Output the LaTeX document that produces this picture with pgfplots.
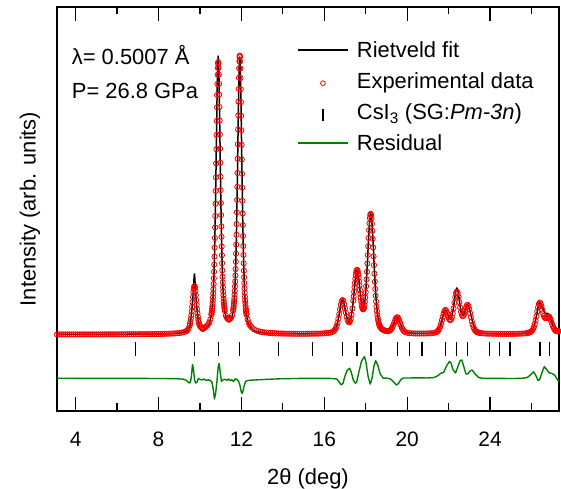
\documentclass[border=0pt]{standalone}
\usepackage{pgfplots}
\pgfplotsset{compat=1.18}
\usepackage{pgfplotstable}
\usepackage{fontspec}
\setmainfont{Liberation Sans}

\definecolor{obsred}{RGB}{255,0,0}
\definecolor{resgreen}{RGB}{0,128,0}

% observed intensity (arb. units, offset scale)
\pgfplotstableread{
x obs
3.1 76.6
3.2 76.6
3.3 76.6
3.4 76.6
3.5 76.6
3.6 76.6
3.7 76.6
3.8 76.6
3.9 76.6
4.0 76.6
4.1 76.6
4.2 76.6
4.3 76.6
4.4 76.6
4.5 76.6
4.6 76.6
4.7 76.6
4.8 76.6
4.9 76.6
5.0 76.6
5.1 76.6
5.2 76.6
5.3 76.6
5.4 76.6
5.5 76.7
5.6 76.7
5.7 76.7
5.8 76.7
5.9 76.7
6.0 76.7
6.1 76.7
6.2 76.7
6.3 76.7
6.4 76.7
6.5 76.8
6.6 76.8
6.7 76.8
6.8 76.8
6.9 76.8
7.0 76.8
7.1 76.8
7.2 76.8
7.3 76.8
7.4 76.8
7.5 76.9
7.6 76.9
7.7 76.9
7.8 76.9
7.9 76.9
8.0 77.0
8.1 77.05
8.2 77.1
8.3 77.2
8.4 77.25
8.5 77.3
8.6 77.4
8.7 77.5
8.8 77.6
8.9 77.8
9.0 78.0
9.1 78.3
9.2 78.75
9.3 79.5
9.35 80.0
9.4 80.9
9.45 82.3
9.50 85.3
9.52 87.1
9.54 89.4
9.56 92.2
9.58 95.7
9.60 99.7
9.62 104.2
9.64 109.0
9.66 114.0
9.68 118.5
9.70 122.2
9.72 124.4
9.74 124.8
9.76 123.2
9.78 120.0
9.80 115.8
9.82 111.1
9.84 106.3
9.86 101.8
9.88 97.7
9.90 94.3
9.92 91.4
9.94 89.1
9.96 87.3
9.98 86.0
10.00 85.0
10.05 83.6
10.10 83.0
10.15 83.0
10.20 83.2
10.25 83.7
10.30 84.5
10.35 85.5
10.40 86.9
10.45 88.7
10.50 91.6
10.55 96.2
10.56 97.5
10.57 99.0
10.58 100.6
10.59 102.6
10.60 104.8
10.61 107.4
10.62 110.3
10.63 113.7
10.64 117.6
10.65 122.0
10.66 127.0
10.67 132.7
10.68 139.2
10.69 146.4
10.70 154.4
10.71 163.3
10.72 173.0
10.73 183.6
10.74 195.0
10.75 207.2
10.76 220.1
10.77 233.6
10.78 247.6
10.79 261.8
10.80 276.1
10.81 290.1
10.82 303.6
10.83 316.0
10.84 327.0
10.85 336.2
10.86 343.2
10.87 347.5
10.88 349.0
10.89 347.5
10.90 343.3
10.91 336.4
10.92 327.3
10.93 316.4
10.94 304.0
10.95 290.6
10.96 276.6
10.97 262.4
10.98 248.2
10.99 234.3
11.00 220.9
11.01 208.1
11.02 195.9
11.03 184.6
11.04 174.1
11.05 164.5
11.06 155.7
11.07 147.8
11.08 140.6
11.09 134.3
11.10 128.6
11.11 123.7
11.12 119.4
11.13 115.6
11.14 112.3
11.15 109.5
11.16 107.0
11.17 104.9
11.18 103.1
11.19 101.5
11.20 100.1
11.25 95.5
11.30 93.1
11.35 91.9
11.40 91.6
11.45 92.0
11.50 93.2
11.55 95.7
11.60 100.4
11.61 101.8
11.62 103.4
11.63 105.3
11.64 107.5
11.65 110.0
11.66 112.9
11.67 116.3
11.68 120.1
11.69 124.6
11.70 129.6
11.71 135.4
11.72 141.9
11.73 149.3
11.74 157.4
11.75 166.4
11.76 176.3
11.77 187.0
11.78 198.7
11.79 211.1
11.80 224.2
11.81 238.0
11.82 252.3
11.83 266.8
11.84 281.4
11.85 295.7
11.86 309.4
11.87 322.1
11.88 333.3
11.89 342.7
11.90 349.7
11.91 354.1
11.92 355.5
11.93 354.0
11.94 349.6
11.95 342.5
11.96 333.0
11.97 321.7
11.98 308.9
11.99 295.2
12.00 280.8
12.01 266.1
12.02 251.5
12.03 237.2
12.04 223.3
12.05 210.1
12.06 197.6
12.07 185.9
12.08 175.0
12.09 165.0
12.10 156.0
12.11 147.7
12.12 140.3
12.13 133.7
12.14 127.9
12.15 122.7
12.16 118.1
12.17 114.2
12.18 110.7
12.19 107.7
12.20 105.0
12.21 102.8
12.22 100.8
12.23 99.0
12.24 97.5
12.25 96.2
12.30 91.4
12.35 88.4
12.40 86.3
12.45 84.8
12.50 83.5
12.60 81.8
12.70 80.7
12.80 79.8
12.90 79.3
13.00 78.9
13.10 78.6
13.20 78.4
13.30 78.2
13.40 78.0
13.50 77.85
13.60 77.75
13.70 77.65
13.80 77.55
13.90 77.5
14.00 77.4
14.10 77.35
14.20 77.3
14.30 77.3
14.40 77.25
14.50 77.2
14.60 77.2
14.70 77.2
14.80 77.2
14.90 77.2
15.00 77.2
15.10 77.2
15.20 77.25
15.30 77.25
15.40 77.3
15.50 77.3
15.60 77.35
15.70 77.4
15.80 77.45
15.90 77.55
16.00 77.7
16.10 77.9
16.20 78.1
16.30 78.4
16.40 79.1
16.44 79.7
16.48 80.3
16.52 81.4
16.56 82.9
16.60 85.2
16.64 88.2
16.68 92.1
16.72 96.7
16.76 101.6
16.80 106.2
16.84 109.6
16.88 111.0
16.92 110.0
16.96 106.9
17.00 102.7
17.04 98.3
17.08 94.3
17.12 91.2
17.16 89.3
17.20 88.7
17.24 89.6
17.28 92.2
17.32 96.5
17.36 102.6
17.40 110.3
17.42 114.6
17.44 119.2
17.46 123.7
17.48 128.2
17.50 132.3
17.52 135.9
17.54 138.7
17.56 140.5
17.58 141.2
17.60 140.8
17.62 139.2
17.64 136.6
17.66 133.4
17.68 129.5
17.70 125.4
17.72 121.3
17.74 117.2
17.76 113.3
17.78 109.9
17.80 107.0
17.82 104.6
17.84 102.9
17.86 101.9
17.88 101.6
17.90 102.2
17.92 103.7
17.94 106.1
17.96 109.3
17.98 113.6
18.00 118.7
18.02 124.8
18.04 131.6
18.06 139.3
18.08 147.5
18.10 156.0
18.12 164.7
18.14 173.1
18.16 180.9
18.18 187.6
18.20 192.8
18.22 196.1
18.24 197.2
18.26 196.0
18.28 192.5
18.30 187.1
18.32 180.2
18.34 172.2
18.36 163.6
18.38 154.7
18.40 145.9
18.42 137.4
18.44 129.3
18.46 122.0
18.48 115.3
18.50 109.5
18.52 104.4
18.54 100.0
18.56 96.4
18.58 93.3
18.60 90.9
18.62 88.8
18.64 87.2
18.66 85.9
18.68 84.8
18.70 84.0
18.74 82.8
18.78 81.9
18.82 81.4
18.86 80.9
18.90 80.5
18.94 80.3
18.98 80.1
19.02 80.0
19.06 79.9
19.10 80.0
19.14 80.2
19.18 80.7
19.22 81.5
19.26 82.6
19.30 84.2
19.34 86.1
19.38 88.4
19.42 90.7
19.46 92.6
19.50 93.7
19.54 93.6
19.58 92.4
19.62 90.4
19.66 88.0
19.70 85.6
19.74 83.5
19.78 81.8
19.82 80.5
19.86 79.5
19.90 78.9
20.00 78.2
20.10 77.9
20.20 77.7
20.30 77.6
20.40 77.5
20.50 77.5
20.60 77.5
20.70 77.5
20.80 77.5
20.90 77.5
21.00 77.6
21.10 77.7
21.20 77.9
21.30 78.2
21.40 78.7
21.44 79.2
21.48 79.9
21.52 81.0
21.56 82.6
21.60 84.8
21.64 87.5
21.68 90.8
21.72 94.2
21.76 97.5
21.80 100.0
21.84 101.1
21.88 100.5
21.92 98.5
21.96 95.9
22.00 93.4
22.04 91.5
22.08 90.7
22.12 91.4
22.16 93.7
22.20 97.5
22.24 102.5
22.28 108.2
22.32 113.7
22.36 117.8
22.40 119.4
22.44 118.0
22.48 114.1
22.52 108.9
22.56 103.6
22.60 99.2
22.64 96.2
22.68 94.9
22.72 95.4
22.76 97.3
22.80 100.2
22.84 103.2
22.88 105.5
22.92 106.2
22.96 104.9
23.00 101.8
23.04 97.8
23.08 93.6
23.12 89.7
23.16 86.4
23.20 83.8
23.24 81.8
23.28 80.5
23.32 79.6
23.36 79.0
23.40 78.6
23.44 78.4
23.48 78.2
23.52 78.0
23.60 77.8
23.70 77.6
23.80 77.4
23.90 77.3
24.00 77.3
24.10 77.25
24.20 77.2
24.30 77.2
24.40 77.2
24.50 77.15
24.60 77.1
24.70 77.1
24.80 77.1
24.90 77.1
25.00 77.1
25.10 77.15
25.20 77.2
25.30 77.25
25.40 77.3
25.50 77.3
25.60 77.5
25.70 77.6
25.80 78.1
25.84 78.2
25.88 78.4
25.92 78.7
25.96 79.1
26.00 79.7
26.04 80.6
26.08 82.1
26.12 84.1
26.16 87.0
26.20 90.6
26.24 94.8
26.28 99.4
26.32 103.7
26.36 107.0
26.40 108.4
26.44 107.5
26.48 104.9
26.52 101.4
26.56 97.9
26.60 95.1
26.64 93.4
26.68 92.7
26.72 93.0
26.76 93.7
26.80 94.4
26.84 94.4
26.88 93.5
26.92 91.6
26.96 89.3
27.00 86.9
27.04 84.7
27.08 82.8
27.12 81.4
27.16 80.5
27.20 79.9
27.24 79.7
27.28 79.7
27.32 79.9
}\obsdata

% calculated (Rietveld) profile
\pgfplotstableread{
x calc
3.1 76.6
5.0 76.6
6.0 76.7
7.0 76.8
8.0 77.0
8.5 77.3
8.8 77.6
9.0 78.0
9.2 78.7
9.3 79.3
9.4 80.2
9.50 84.3
9.52 86.1
9.54 88.6
9.56 91.5
9.58 95.2
9.60 99.4
9.62 104.2
9.64 109.0
9.66 114.2
9.68 119.7
9.70 127.1
9.72 134.8
9.733 137.0
9.74 136.7
9.76 129.8
9.78 122.0
9.80 116.1
9.82 111.0
9.84 106.0
9.86 101.3
9.88 97.0
9.90 93.6
9.92 90.4
9.94 87.8
9.96 85.8
9.98 84.3
10.00 83.0
10.05 81.0
10.10 80.0
10.15 80.0
10.20 80.2
10.25 81.0
10.30 82.0
10.35 83.5
10.40 85.4
10.45 87.7
10.50 91.1
10.55 95.9
10.56 97.5
10.58 100.6
10.60 104.8
10.62 110.3
10.64 117.6
10.66 127.0
10.68 139.3
10.70 154.5
10.72 173.3
10.74 195.5
10.76 221.0
10.78 249.1
10.80 278.5
10.82 307.1
10.84 331.7
10.86 348.8
10.88 355.0
10.90 348.9
10.92 332.0
10.94 307.5
10.96 279.0
10.98 249.7
11.00 221.8
11.02 196.4
11.04 174.4
11.06 155.8
11.08 140.6
11.10 128.6
11.12 119.1
11.14 112.0
11.16 106.5
11.18 102.4
11.20 99.1
11.25 94.0
11.30 91.1
11.35 89.6
11.40 89.1
11.45 89.6
11.50 91.1
11.55 94.0
11.60 99.1
11.62 102.4
11.64 106.7
11.66 112.3
11.68 119.7
11.70 129.3
11.72 141.7
11.74 157.3
11.76 176.3
11.78 198.6
11.80 224.0
11.82 251.9
11.84 280.8
11.86 308.5
11.88 332.1
11.90 348.3
11.92 354.0
11.94 348.2
11.96 331.8
11.98 308.0
12.00 280.2
12.02 251.1
12.04 223.1
12.06 197.5
12.08 175.0
12.10 156.0
12.12 140.1
12.14 127.6
12.16 117.6
12.18 110.0
12.20 104.1
12.22 99.7
12.24 96.2
12.30 89.9
12.40 84.8
12.50 82.1
12.60 80.6
12.70 79.7
12.80 79.0
13.00 78.4
13.40 77.7
14.00 77.4
15.00 77.2
16.00 77.7
16.40 79.2
16.48 80.3
16.56 82.9
16.64 88.2
16.72 96.7
16.80 106.2
16.84 109.6
16.88 111.0
16.92 110.0
16.96 106.9
17.04 98.3
17.12 91.2
17.20 88.7
17.28 92.2
17.36 102.6
17.42 114.6
17.46 123.7
17.50 132.3
17.54 138.7
17.58 141.2
17.62 139.2
17.66 133.4
17.70 125.4
17.74 117.2
17.78 109.9
17.82 104.6
17.86 101.9
17.90 102.2
17.94 106.1
17.98 113.6
18.02 124.8
18.06 139.3
18.10 156.0
18.14 173.1
18.18 187.6
18.22 196.1
18.24 197.2
18.26 196.0
18.28 193.5
18.30 189.1
18.32 183.2
18.34 175.7
18.36 167.6
18.38 158.7
18.40 149.9
18.44 133.3
18.48 118.8
18.52 107.4
18.56 98.9
18.60 92.9
18.66 86.9
18.74 83.3
18.82 81.4
18.94 80.3
19.06 79.9
19.18 80.7
19.26 82.6
19.34 86.1
19.42 90.7
19.46 92.6
19.50 93.7
19.54 93.6
19.58 92.4
19.66 88.0
19.74 83.5
19.82 80.5
19.90 78.9
20.00 78.2
20.50 77.5
21.00 77.6
21.20 77.9
21.40 78.7
21.48 79.9
21.56 82.6
21.64 87.5
21.72 94.2
21.80 100.0
21.84 101.1
21.88 100.5
21.96 96.4
22.00 94.2
22.04 92.7
22.08 92.2
22.12 92.9
22.16 95.9
22.20 98.8
22.24 103.7
22.28 109.7
22.32 116.2
22.36 121.1
22.40 123.0
22.44 121.3
22.48 116.6
22.52 110.4
22.56 104.3
22.60 99.5
22.68 95.4
22.76 97.3
22.84 103.2
22.88 105.5
22.92 106.2
22.96 105.4
23.00 102.8
23.04 99.3
23.08 96.1
23.12 92.7
23.16 89.4
23.20 86.3
23.24 83.8
23.28 82.0
23.32 80.6
23.40 79.1
23.52 78.0
23.80 77.4
24.40 77.2
25.00 77.1
25.50 77.3
25.80 78.1
25.96 79.1
26.04 80.6
26.12 84.1
26.20 90.6
26.28 99.4
26.32 103.7
26.36 107.0
26.40 108.4
26.44 108.0
26.48 106.4
26.52 104.4
26.56 101.9
26.60 100.1
26.64 98.4
26.68 97.2
26.72 97.5
26.76 97.7
26.80 97.4
26.84 96.4
26.88 95.0
26.92 92.8
26.96 90.3
27.00 87.8
27.04 85.5
27.08 83.5
27.12 82.0
27.20 80.4
27.28 80.0
27.33 80.2
}\calcdata

% Bragg reflections of CsI3, Pm-3n
\pgfplotstableread{
x y
6.896 62
9.733 62
10.877 62
11.915 62
13.773 62
15.419 62
16.886 62
17.576 62
18.252 62
19.521 62
20.120 62
20.713 62
21.848 62
22.393 62
22.909 62
23.980 62
24.463 62
24.960 62
26.410 62
26.857 62
}\refldata

% difference curve (obs - calc), shifted
\pgfplotstableread{
x res
3.10 32.8
4.00 32.7
5.00 32.6
6.00 32.7
7.00 32.6
8.00 32.5
8.80 32.4
9.20 31.8
9.35 30.5
9.45 28.5
9.52 28.0
9.58 33.0
9.64 46.5
9.68 43.0
9.74 31.0
9.80 28.0
9.86 29.0
9.92 32.5
10.00 31.5
10.10 31.0
10.20 32.0
10.30 30.5
10.40 31.2
10.50 30.5
10.58 29.0
10.64 22.0
10.70 12.0
10.76 18.0
10.82 30.0
10.88 44.0
10.93 47.5
10.98 38.0
11.04 29.5
11.10 31.0
11.20 31.8
11.30 30.8
11.38 32.0
11.46 30.4
11.54 31.2
11.62 29.5
11.70 32.2
11.78 31.5
11.86 30.0
11.94 25.0
12.00 18.5
12.05 17.7
12.12 24.0
12.20 29.5
12.30 30.5
12.50 30.8
12.80 31.2
13.20 31.6
13.60 32.0
14.00 32.3
14.50 32.5
15.00 32.6
15.50 32.7
16.00 32.7
16.40 32.5
16.60 32.0
16.72 29.0
16.82 26.2
16.90 27.5
17.00 35.0
17.10 40.5
17.22 42.7
17.30 39.0
17.40 31.0
17.50 27.8
17.56 28.5
17.66 38.0
17.80 50.0
17.94 54.5
18.02 48.0
18.12 34.0
18.22 27.0
18.30 32.0
18.40 45.0
18.48 50.3
18.58 46.0
18.70 37.0
18.85 32.7
19.00 33.0
19.20 32.0
19.35 29.0
19.48 26.0
19.58 27.5
19.70 31.5
19.82 33.0
20.10 33.0
20.50 33.2
21.00 33.0
21.30 33.5
21.50 35.5
21.62 37.7
21.76 38.5
21.90 45.0
22.04 49.5
22.12 48.0
22.22 41.0
22.34 38.0
22.44 44.0
22.56 50.5
22.64 51.0
22.74 44.0
22.84 37.0
22.92 37.0
23.04 40.0
23.14 41.0
23.28 37.0
23.45 33.5
23.60 32.8
24.00 32.6
24.50 32.6
25.00 32.5
25.50 32.6
25.80 33.5
26.00 37.0
26.10 39.3
26.20 36.0
26.32 30.5
26.40 31.5
26.50 38.0
26.62 44.3
26.72 42.0
26.86 38.0
26.98 37.7
27.12 36.0
27.25 31.5
27.33 29.3
}\resdata

\begin{document}
\begin{tikzpicture}
\begin{axis}[
  scale only axis,
  width=502bp, height=404bp,
  xmin=3.1, xmax=27.33,
  ymin=0, ymax=404,
  axis line style={line width=1.7bp},
  ytick=\empty,
  xtick={4,8,12,16,20,24},
  minor xtick={6,10,14,18,22,26},
  tick align=inside,
  major tick length=14bp,
  minor tick length=7.5bp,
  tick style={line width=1.2bp, black},
  /pgf/number format/assume math mode=true,
  tick label style={font=\fontsize{21}{25}\selectfont},
  xticklabel style={anchor=base, yshift=-35.5bp},
  label style={font=\fontsize{22}{26}\selectfont},
  xlabel={2θ (deg)},
  ylabel={Intensity (arb. units)},
  xlabel style={at={(axis description cs:0.5,-0.183)}, anchor=base},
  ylabel style={at={(axis description cs:-0.054,0.5)}, anchor=center},
  legend cell align=left,
  legend style={
    at={(axis description cs:0.478,0.922)}, anchor=north west,
    draw=none, fill=none, inner sep=0pt, outer sep=0pt,
    font=\fontsize{22}{26}\selectfont,
    row sep=8bp,
    cells={anchor=base west},
    nodes={inner sep=0pt, outer sep=0pt, text height=19bp, text depth=4bp},
    /tikz/every odd column/.append style={column sep=8bp},
  },
]
\addplot[black, line width=1.5bp, line join=round,
  legend image code/.code={\draw[black, line width=2bp] (0bp,7.6bp) -- (50bp,7.6bp);}]
  table[x=x, y=calc] {\calcdata};
\addlegendentry{Rietveld fit}

\addplot[only marks, mark=o, mark size=2.6bp, obsred,
  mark options={line width=0.8bp, obsred},
  legend image code/.code={\draw[obsred, line width=0.8bp] (25bp,5.3bp) circle (2.4bp);}]
  table[x=x, y=obs] {\obsdata};
\addlegendentry{Experimental data}

\addplot[only marks, mark=|, mark size=7bp, black,
  mark options={line width=1.2bp},
  legend image code/.code={\draw[black, line width=1.2bp] (25bp,-1.7bp) -- (25bp,11bp);}]
  table[x=x, y=y] {\refldata};
\addlegendentry{CsI\textsubscript{3} (SG:\textit{Pm-3n})}

\addplot[resgreen, line width=1.4bp, line join=round,
  legend image code/.code={\draw[resgreen, line width=2bp] (0bp,7.6bp) -- (50bp,7.6bp);}]
  table[x=x, y=res] {\resdata};
\addlegendentry{Residual}

\node[anchor=base west, inner sep=0pt, font=\fontsize{22}{26}\selectfont]
  at (axis description cs:0.0293,0.8577) {λ= 0.5007 Å};
\node[anchor=base west, inner sep=0pt, font=\fontsize{22}{26}\selectfont]
  at (axis description cs:0.0293,0.7735) {P= 26.8 GPa};
\end{axis}
\pgfresetboundingbox
\path[use as bounding box] (-57bp,-78bp) rectangle (504bp,411bp);
\end{tikzpicture}
\end{document}
